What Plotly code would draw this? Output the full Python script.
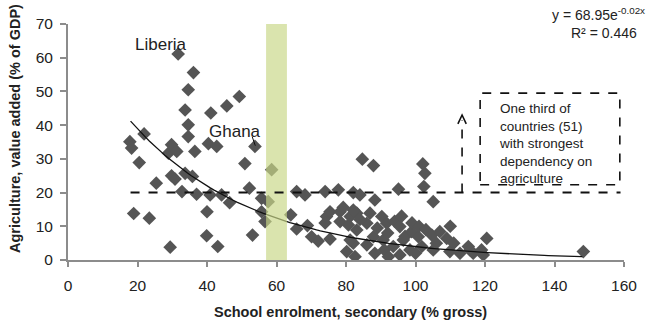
import numpy as np
import plotly.graph_objects as go

# Secondary school enrolment (% gross) vs agriculture value added (% of GDP)
enrolment = [
    17.8, 18.3, 21.9, 20.5, 18.9, 23.4, 25.4, 28.9, 29.8, 31.3,
    29.4, 29.8, 30.8, 31.7, 32.8, 33.7, 33.7, 34.6, 36.1, 34.6,
    34.6, 36.5, 35.8, 37.0, 40.4, 42.8, 41.1, 45.7, 49.3, 40.9,
    44.2, 40.0, 39.9, 43.1, 46.5, 50.9, 52.2, 53.8, 53.1, 55.7,
    55.7, 57.6, 56.7, 58.6, 64.1, 65.8, 68.2,
    65.8, 68.9, 70.1, 72.0, 74.4, 75.4, 74.0, 75.4, 78.3, 79.2,
    81.2, 78.3, 80.7, 80.2, 82.1, 81.2, 82.6, 83.1, 82.1, 83.1,
    84.0, 86.0, 86.9, 87.9, 88.3, 88.3, 89.0, 90.3, 90.7, 91.0,
    91.7, 92.2, 92.0, 93.6, 94.0, 95.5, 95.5, 96.0, 96.5, 97.0,
    98.4, 98.9, 99.0, 100.0, 100.8, 101.0, 101.8, 103.0, 104.7, 105.1,
    106.0, 107.0, 109.0, 109.9, 110.0, 111.0, 112.8, 115.2, 115.7, 116.6,
    119.0, 119.5, 120.5, 148.3, 86.0, 84.0,
    74.0, 77.8, 82.1, 84.7, 87.9, 95.1, 102.1, 102.7, 102.4, 105.1,
]
agriculture = [
    35.1, 33.2, 37.4, 28.9, 13.8, 12.4, 22.8, 31.7, 34.2, 32.2,
    3.8, 25.0, 24.0, 61.1, 20.3, 25.7, 44.5, 50.5, 55.6, 40.1,
    36.6, 32.2, 24.8, 19.5, 34.5, 33.7, 43.6, 45.7, 48.5, 19.3,
    19.3, 14.3, 7.2, 4.0, 17.0, 28.6, 21.3, 33.7, 7.4, 18.3,
    14.3, 17.3, 11.4, 26.8, 13.4, 20.3, 19.3,
    9.2, 10.2, 6.9, 5.6, 12.9, 14.3, 11.0, 6.2, 14.3, 15.6,
    12.9, 11.4, 10.4, 2.5, 5.0, 5.9, 1.0, 13.9, 14.8, 8.9,
    19.3, 10.9, 13.9, 6.9, 17.8, 2.0, 9.5, 12.9, 5.9, 3.0,
    10.9, 1.0, 8.0, 4.0, 11.5, 9.9, 1.5, 13.0, 5.9, 7.0,
    3.0, 8.4, 11.0, 2.0, 6.9, 10.0, 4.0, 9.0, 7.4, 3.0,
    5.0, 8.4, 6.4, 2.5, 10.0, 5.0, 2.0, 4.0, 3.0, 2.0,
    3.0, 1.5, 6.4, 2.5, 4.5, 12.0,
    20.3, 20.8, 20.0, 29.9, 28.0, 21.0, 28.5, 25.7, 21.8, 17.3,
]

# Exponential trendline y = a * exp(b x)
trend_a = 68.95
trend_b = -0.0286
trend_x = np.linspace(18, 148, 120)
trend_y = trend_a * np.exp(trend_b * trend_x)

x_ticks = [0, 20, 40, 60, 80, 100, 120, 140, 160]
y_ticks = [0, 10, 20, 30, 40, 50, 60, 70]

FONT = "Liberation Sans, Arial, sans-serif"
TEXT = "#222222"
AXIS = "#8c8c8c"

fig = go.Figure()
fig.add_trace(go.Scatter(
    x=enrolment, y=agriculture, mode="markers",
    marker=dict(symbol="diamond", size=10.5, color="#555555", line=dict(width=0)),
    hoverinfo="x+y", showlegend=False,
))
fig.add_trace(go.Scatter(
    x=trend_x, y=trend_y, mode="lines",
    line=dict(color="#111111", width=1.3), showlegend=False, hoverinfo="skip",
))

shapes = [
    # highlighted enrolment band
    dict(type="rect", xref="x", yref="y", x0=57, x1=63, y0=0, y1=70,
         fillcolor="rgb(200,215,135)", opacity=0.68, line=dict(width=0), layer="above"),
    # one-third threshold
    dict(type="line", xref="x", yref="y", x0=18, x1=159, y0=20, y1=20,
         line=dict(color="#111111", width=2, dash="dash"), layer="above"),
    # callout box
    dict(type="rect", xref="x", yref="y", x0=118.6, x1=158.8, y0=22.3, y1=49.5,
         line=dict(color="#111111", width=1.6, dash="dash"), fillcolor="rgba(0,0,0,0)", layer="above"),
    # upward dashed arrow
    dict(type="line", xref="x", yref="y", x0=113.4, x1=113.4, y0=20, y1=41.5,
         line=dict(color="#111111", width=1.6, dash="dash"), layer="above"),
    dict(type="path", xref="x", yref="y", path="M 112.2,40.4 L 113.4,43.0 L 114.6,40.4",
         line=dict(color="#111111", width=1.6), layer="above"),
    # Ghana leader
    dict(type="line", xref="x", yref="y", x0=53.0, x1=53.9, y0=36.6, y1=33.9,
         line=dict(color="#111111", width=1), layer="above"),
]

annotations = [
    dict(x=26.9, y=63.9, xref="x", yref="y", text="Liberia", showarrow=False,
         font=dict(family=FONT, size=17, color=TEXT)),
    dict(x=48.1, y=38.1, xref="x", yref="y", text="Ghana", showarrow=False,
         font=dict(family=FONT, size=17, color=TEXT)),
    dict(x=123.4, y=34.7, xref="x", yref="y", xanchor="left", yanchor="middle", align="left",
         text="One third of<br>countries (51)<br>with strongest<br>dependency on<br>agriculture",
         showarrow=False, font=dict(family=FONT, size=13.5, color=TEXT)),
    dict(x=1.0 + (647 - 624) / 556, y=1.0 + (24 - 14) / 236, xref="paper", yref="paper",
         xanchor="right", yanchor="middle", text="y = 68.95e<sup>-0.02x</sup>",
         showarrow=False, font=dict(family=FONT, size=14, color=TEXT)),
    dict(x=1.0 + (639 - 624) / 556, y=1.0 - (33 - 24) / 236, xref="paper", yref="paper",
         xanchor="right", yanchor="middle", text="R² = 0.446",
         showarrow=False, font=dict(family=FONT, size=14, color=TEXT)),
    dict(x=(350 - 68) / 556, y=-(312 - 260) / 236, xref="paper", yref="paper",
         xanchor="center", yanchor="middle",
         text="<b>School enrolment, secondary (% gross)</b>", showarrow=False,
         font=dict(family=FONT, size=14.5, color=TEXT)),
    dict(x=-(68 - 15) / 556, y=(260 - 129) / 236, xref="paper", yref="paper",
         xanchor="center", yanchor="middle",
         text="<b>Agriculture, value added (% of GDP)</b>", showarrow=False, textangle=-90,
         font=dict(family=FONT, size=14.5, color=TEXT)),
]

fig.update_layout(
    width=649, height=324,
    margin=dict(l=68, r=25, t=24, b=64),
    paper_bgcolor="white", plot_bgcolor="white",
    font=dict(family=FONT, size=15, color=TEXT),
    shapes=shapes, annotations=annotations,
    showlegend=False,
)
fig.update_xaxes(
    range=[0, 160], tickvals=x_ticks, ticktext=[str(v) for v in x_ticks],
    showgrid=False, zeroline=False, showline=True, linecolor=AXIS, linewidth=2,
    ticks="outside", ticklen=5, tickwidth=1.5, tickcolor=AXIS,
    tickfont=dict(family=FONT, size=15.5, color=TEXT), ticklabelstandoff=5,
)
fig.update_yaxes(
    range=[0, 70], tickvals=y_ticks, ticktext=[str(v) for v in y_ticks],
    showgrid=False, zeroline=False, showline=True, linecolor=AXIS, linewidth=2,
    ticks="outside", ticklen=6, tickwidth=1.5, tickcolor=AXIS,
    tickfont=dict(family=FONT, size=15.5, color=TEXT), ticklabelstandoff=4,
)

fig.write_html("out.html")
